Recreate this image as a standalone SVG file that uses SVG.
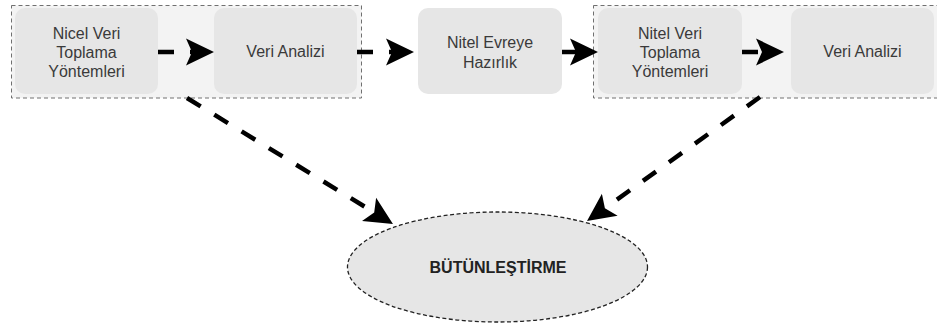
<svg xmlns="http://www.w3.org/2000/svg" width="937" height="324" viewBox="0 0 937 324">
  <style>
    .group { fill: #f3f3f3; stroke: #707070; stroke-width: 1; stroke-dasharray: 4 3; }
    .box { fill: #e6e6e6; stroke: none; }
    .label { font-family: "Liberation Sans", Arial, sans-serif; font-size: 16px; fill: #3a3a3a; text-anchor: middle; }
    .bold { font-weight: bold; fill: #222; }
    .link { fill: none; stroke: #000; stroke-width: 4.5; stroke-dasharray: 16 16; }
    .oval { fill: #e6e6e6; stroke: #222; stroke-width: 1.3; stroke-dasharray: 4 2.5; }
  </style>
  <defs>
    <marker id="head" markerUnits="userSpaceOnUse" markerWidth="30" markerHeight="30" viewBox="0 -15 30 30" refX="6" refY="0" orient="auto">
      <path d="M0,-13.5 L28,0 L0,13.5 L6,0 Z" fill="#000"/>
    </marker>
  </defs>

  <!-- dashed group frames -->
  <g id="group-quant">
    <rect class="group" x="11.5" y="5.5" width="350" height="92.5"/>
  </g>
  <g id="group-qual">
    <rect class="group" x="593.5" y="5.5" width="350" height="92.5"/>
  </g>

  <g id="nicel-toplama">
    <rect class="box" x="15" y="8" width="143" height="86" rx="10"/>
    <text class="label" x="86.5" y="39">Nicel Veri</text>
    <text class="label" x="86.5" y="58">Toplama</text>
    <text class="label" x="86.5" y="77">Yöntemleri</text>
  </g>
  <g id="nicel-analiz">
    <rect class="box" x="214" y="8" width="143" height="86" rx="10"/>
    <text class="label" x="285.5" y="57">Veri Analizi</text>
  </g>
  <g id="nitel-hazirlik">
    <rect class="box" x="418" y="8" width="144" height="86" rx="10"/>
    <text class="label" x="490" y="48">Nitel Evreye</text>
    <text class="label" x="490" y="68">Hazırlık</text>
  </g>
  <g id="nitel-toplama">
    <rect class="box" x="598" y="8" width="144" height="86" rx="10"/>
    <text class="label" x="670" y="39">Nitel Veri</text>
    <text class="label" x="670" y="58">Toplama</text>
    <text class="label" x="670" y="77">Yöntemleri</text>
  </g>
  <g id="nitel-analiz">
    <rect class="box" x="791" y="8" width="143" height="86" rx="10"/>
    <text class="label" x="862.5" y="57">Veri Analizi</text>
  </g>
  <g id="butunlestirme">
    <ellipse class="oval" cx="497.5" cy="267" rx="150" ry="55"/>
    <text class="label bold" x="498" y="273">BÜTÜNLEŞTİRME</text>
  </g>

  <!-- connectors -->
  <g id="connectors">
    <path class="link" d="M158,52 L192,52" marker-end="url(#head)"/>
    <path class="link" d="M357,52 L392,52" marker-end="url(#head)"/>
    <path class="link" d="M562,52 L576,52" marker-end="url(#head)"/>
    <path class="link" d="M742,52 L762,52" marker-end="url(#head)"/>
    <path class="link" d="M187,98 L374.2,212.5" marker-end="url(#head)"/>
    <path class="link" d="M760,97 L604.9,208.2" marker-end="url(#head)"/>
  </g>
</svg>
